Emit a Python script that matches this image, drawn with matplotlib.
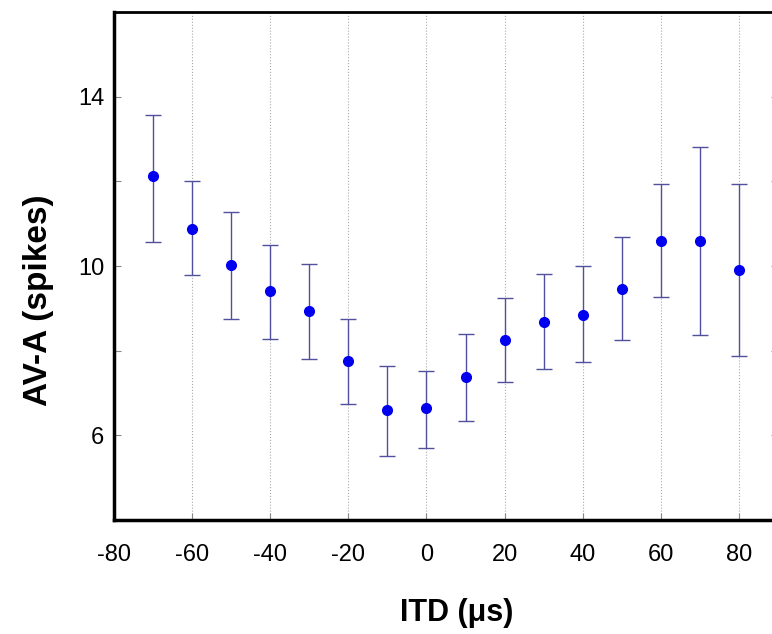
import numpy as np
import matplotlib.pyplot as plt

# ITD tuning curve data
itd = [-70, -60, -50, -40, -30, -20, -10, 0, 10, 20, 30, 40, 50, 60, 70, 80]
ava_mean = [12.12, 10.87, 10.02, 9.41, 8.95, 7.75, 6.61, 6.64, 7.37, 8.25, 8.69, 8.85, 9.45, 10.60, 10.60, 9.91]
err_hi = [1.46, 1.14, 1.26, 1.10, 1.11, 1.01, 1.04, 0.88, 1.03, 0.99, 1.12, 1.15, 1.23, 1.35, 2.21, 2.02]
err_lo = [1.54, 1.09, 1.26, 1.13, 1.14, 1.01, 1.09, 0.95, 1.03, 0.98, 1.11, 1.12, 1.19, 1.34, 2.22, 2.04]

xticks = [-80, -60, -40, -20, 0, 20, 40, 60, 80]
yticks_major = [6, 10, 14]
yticks_minor = [8, 12]

plt.rcParams['font.family'] = ['Liberation Sans', 'DejaVu Sans']
plt.rcParams['axes.unicode_minus'] = False

fig = plt.figure(figsize=(7.72, 6.34), dpi=100)
ax = fig.add_axes([0.1477, 0.1798, 0.860, 0.801])

ax.errorbar(itd, ava_mean, yerr=[err_lo, err_hi], fmt='none',
            ecolor='#50509e', elinewidth=1.0, capsize=6, capthick=1.0)
ax.plot(itd, ava_mean, 'o', color='#0000ee', markersize=7)

ax.set_xlim(-80, 90)
ax.set_ylim(4, 16)
ax.set_xticks(xticks)
ax.set_yticks(yticks_major)
ax.set_yticks(yticks_minor, minor=True)

# dotted vertical guides at the x ticks
for x in xticks[1:]:
    ax.axvline(x, color='#aaaaaa', linestyle=':', linewidth=0.8, zorder=0)

ax.tick_params(axis='both', which='both', direction='in', color='#888888',
               length=5, width=0.8, labelsize=17)
ax.tick_params(axis='y', which='both', right=True)
ax.tick_params(axis='x', pad=17)
ax.tick_params(axis='y', pad=7)

ax.spines['left'].set_linewidth(2.5)
ax.spines['bottom'].set_linewidth(2.5)
ax.spines['top'].set_linewidth(2.0)
ax.spines['right'].set_visible(False)

ax.set_xlabel('ITD (μs)', fontsize=22, fontweight='bold')
ax.set_ylabel('AV-A (spikes)', fontsize=24, fontweight='bold', va='center')
ax.xaxis.set_label_coords(0.5166, -0.153)
ax.yaxis.set_label_coords(-0.1145, 0.433)

fig.savefig('out.png', dpi=100)
